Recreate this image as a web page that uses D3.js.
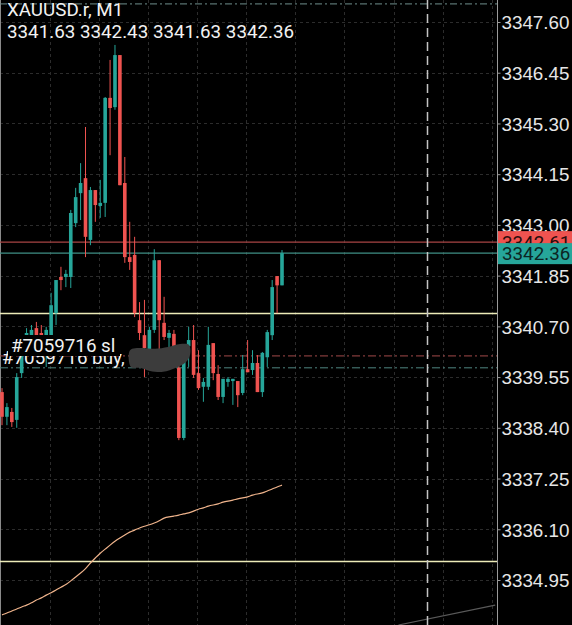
<!DOCTYPE html>
<meta charset="utf-8">
<style>
body { margin: 0; background: #000; }
svg { display: block; font-family: Roboto, sans-serif; }
.axis text { fill: #e6e6e6; font-size: 18.8px; }
.axis line { stroke: #9a9a9a; }
.grid line { stroke: #2c2c2c; stroke-dasharray: 3,3; }
</style>
<body>
<script src="https://d3js.org/d3.v7.min.js"></script>
<script>
// candle data (M1), oldest first
var opens = [3339.21,3338.65,3338.76,3338.58,3339.64,3340.32,3340.50,3340.66,3340.55,3340.50,
  3340.50,3341.00,3341.82,3341.82,3341.82,3343.04,3343.72,3344.06,3342.66,3343.79,
  3343.43,3343.50,3345.88,3345.67,3346.85,3343.95,3342.27,3342.32,3340.84,3340.50,
  3340.16,3340.62,3342.20,3340.78,3340.44,3340.53,3339.76,3338.17,3340.25,3340.39,
  3339.64,3339.33,3339.33,3340.32,3339.62,3339.10,3339.44,3339.46,3339.46,3339.19,
  3339.73,3339.71,3339.87,3339.21,3340.00,3340.50,3341.84,3341.63];
var highs = [3339.30,3338.96,3338.85,3339.64,3340.46,3340.66,3340.73,3340.80,3340.73,3340.69,
  3341.46,3341.75,3342.05,3341.98,3343.34,3343.84,3344.40,3345.22,3343.86,3343.79,
  3344.02,3345.90,3346.74,3347.08,3346.85,3344.54,3343.07,3342.73,3341.25,3341.30,
  3340.69,3342.45,3342.20,3341.37,3340.62,3340.62,3339.94,3340.16,3340.69,3340.73,
  3340.16,3339.53,3340.69,3340.32,3339.82,3339.51,3339.55,3339.51,3339.46,3340.05,
  3340.39,3340.16,3340.05,3340.12,3340.62,3341.75,3341.84,3342.43];
var lows = [3338.46,3338.46,3338.42,3338.40,3339.53,3340.23,3340.39,3340.39,3340.32,3339.78,
  3340.46,3340.73,3341.52,3341.59,3341.57,3342.95,3343.11,3342.27,3342.54,3343.07,
  3343.16,3343.18,3344.58,3345.61,3343.90,3342.14,3341.98,3340.91,3340.39,3339.55,
  3340.12,3340.55,3340.05,3340.39,3340.23,3340.16,3338.12,3338.12,3339.78,3339.53,
  3339.26,3338.99,3339.26,3339.48,3339.03,3338.96,3339.33,3338.92,3338.87,3339.14,
  3339.66,3339.60,3339.21,3339.10,3339.78,3340.39,3341.00,3341.63];
var closes = [3338.65,3338.87,3338.53,3339.55,3340.39,3340.55,3340.62,3340.50,3340.46,3340.62,
  3341.18,3341.75,3341.75,3341.89,3343.27,3343.63,3343.95,3342.73,3343.79,3343.45,
  3343.50,3345.88,3345.65,3346.85,3343.90,3342.27,3342.16,3341.00,3340.55,3340.21,
  3340.62,3342.20,3340.84,3340.46,3340.55,3340.23,3338.17,3340.00,3340.39,3339.60,
  3339.30,3339.44,3340.28,3339.64,3339.10,3339.51,3339.51,3339.51,3339.14,3339.73,
  3339.66,3339.87,3339.21,3340.10,3340.57,3341.59,3341.63,3342.36];

// moving average, one value per candle
var maValues = [3334.16,3334.20,3334.25,3334.29,3334.34,3334.38,3334.43,3334.50,3334.54,3334.61,
  3334.66,3334.72,3334.79,3334.84,3334.93,3335.02,3335.11,3335.20,3335.34,3335.45,
  3335.56,3335.65,3335.74,3335.83,3335.90,3335.97,3336.04,3336.08,3336.13,3336.17,
  3336.20,3336.24,3336.29,3336.36,3336.38,3336.40,3336.42,3336.45,3336.47,3336.51,
  3336.56,3336.58,3336.63,3336.65,3336.67,3336.72,3336.74,3336.76,3336.79,3336.81,
  3336.83,3336.88,3336.90,3336.92,3336.97,3337.01,3337.06,3337.10];

var yTicks = [3347.60,3346.45,3345.30,3344.15,3343.00,3341.85,3340.70,3339.55,3338.40,3337.25,3336.10,3334.95];
var askPrice = 3342.61, bidPrice = 3342.36;
var yellowLevels = [3341.00, 3335.38];
var slPrice = 3340.03, buyPrice = 3339.76;
var topLevel = 3348.01;
var gridIdx = [9.7,19.7,29.7,39.7,49.7,59.7,69.7,79.7,89.7,99.7];
var sepIndex = 86.6;
var trendPts = [[80.7, 3333.93], [100.4, 3334.38]];
var blobPts = [[26.06,3340.16],[28.5,3340.21],[31.15,3340.19],[33.8,3340.23],[36.24,3340.30],[38.07,3340.28],
  [38.27,3340.05],[37.46,3339.89],[35.42,3339.76],[32.78,3339.67],[30.13,3339.69],[28.09,3339.76],[26.26,3339.78]];
var headerSym = "XAUUSD.r, M1";
var ticket = "#7059716";

var W = 572, H = 625, plotW = 497;
var up = "#26a69a", down = "#ef5350";
var fs = "18.8px";

var x = d3.scaleLinear().domain([0, 57]).range([2, 282]);
var y = d3.scaleLinear().domain([3347.60, 3334.95]).range([22, 580]);

var svg = d3.select("body").append("svg").attr("width", W).attr("height", H);
svg.append("rect").attr("width", W).attr("height", H).attr("fill", "#000");
svg.append("clipPath").attr("id", "plot").append("rect").attr("width", plotW).attr("height", H);
var g = svg.append("g").attr("clip-path", "url(#plot)");

// grid
var grid = g.append("g").attr("class", "grid");
grid.selectAll(".h").data(yTicks).enter().append("line")
    .attr("x1", 0).attr("x2", plotW)
    .attr("y1", function(d) { return Math.round(y(d)) + 0.5; })
    .attr("y2", function(d) { return Math.round(y(d)) + 0.5; });
grid.selectAll(".v").data(gridIdx).enter().append("line")
    .attr("x1", function(d) { return Math.round(x(d)) + 0.5; })
    .attr("x2", function(d) { return Math.round(x(d)) + 0.5; })
    .attr("y1", 0).attr("y2", H);

// left border
g.append("line").attr("x1", 0.5).attr("x2", 0.5).attr("y1", 0).attr("y2", H).attr("stroke", "#8a8a8a");

// top level line
g.append("line").attr("x1", 0).attr("x2", plotW)
    .attr("y1", y(topLevel)).attr("y2", y(topLevel))
    .attr("stroke", "#6f8f8c").attr("stroke-dasharray", "7,3,2,3");

// yellow levels
g.selectAll(".yl").data(yellowLevels).enter().append("line")
    .attr("x1", 0).attr("x2", plotW)
    .attr("y1", function(d) { return Math.round(y(d)) + 0.5; })
    .attr("y2", function(d) { return Math.round(y(d)) + 0.5; })
    .attr("stroke", "#ecebb8").attr("stroke-width", 1.3);

// sl / buy lines
g.append("line").attr("x1", 0).attr("x2", plotW)
    .attr("y1", y(slPrice)).attr("y2", y(slPrice))
    .attr("stroke", "#a34a4a").attr("stroke-dasharray", "8,3,2,3");
g.append("line").attr("x1", 0).attr("x2", plotW)
    .attr("y1", y(buyPrice)).attr("y2", y(buyPrice))
    .attr("stroke", "#4f8580").attr("stroke-dasharray", "8,3,2,3");

// ask / bid lines
g.append("line").attr("x1", 0).attr("x2", plotW)
    .attr("y1", y(askPrice)).attr("y2", y(askPrice))
    .attr("stroke", "#a84545").attr("stroke-width", 1.2);
g.append("line").attr("x1", 0).attr("x2", plotW)
    .attr("y1", y(bidPrice)).attr("y2", y(bidPrice))
    .attr("stroke", "#3f8f86").attr("stroke-width", 1.2);

// candles
var idx = d3.range(opens.length);
var bw = 3.6;
var cg = g.append("g");
cg.selectAll(".wick").data(idx).enter().append("line")
    .attr("x1", function(i) { return x(i); })
    .attr("x2", function(i) { return x(i); })
    .attr("y1", function(i) { return y(highs[i]); })
    .attr("y2", function(i) { return y(lows[i]); })
    .attr("stroke", function(i) { return closes[i] >= opens[i] ? up : down; })
    .attr("stroke-width", 1);
cg.selectAll(".body").data(idx).enter().append("rect")
    .attr("x", function(i) { return x(i) - bw / 2; })
    .attr("width", bw)
    .attr("y", function(i) { return y(Math.max(opens[i], closes[i])); })
    .attr("height", function(i) { return Math.max(1, Math.abs(y(opens[i]) - y(closes[i]))); })
    .attr("fill", function(i) { return closes[i] >= opens[i] ? up : down; });

// moving average
g.append("path").datum(maValues)
    .attr("fill", "none").attr("stroke", "#f0b48c").attr("stroke-width", 1.2)
    .attr("d", d3.line().x(function(d, i) { return x(i); }).y(function(d) { return y(d); }).curve(d3.curveBasis));

// trend line bottom right
g.append("line")
    .attr("x1", x(trendPts[0][0])).attr("y1", y(trendPts[0][1]))
    .attr("x2", x(trendPts[1][0])).attr("y2", y(trendPts[1][1]))
    .attr("stroke", "#5a5a5a").attr("stroke-width", 1.2);

// period separator
g.append("line")
    .attr("x1", Math.round(x(sepIndex)) + 0.5).attr("x2", Math.round(x(sepIndex)) + 0.5)
    .attr("y1", 0).attr("y2", H)
    .attr("stroke", "#c4c4c4").attr("stroke-width", 1.5).attr("stroke-dasharray", "9,5");

// order labels
g.append("text").attr("x", 2).attr("y", 364)
    .attr("fill", "#f2f2f2").style("font-size", fs).text(ticket + " buy,");
g.append("rect").attr("x", 8).attr("y", 335).attr("width", 112).attr("height", 21).attr("fill", "#000");
g.append("text").attr("x", 11).attr("y", 352)
    .attr("fill", "#f2f2f2").style("font-size", fs).text(ticket + " sl");

// redaction smudge
g.append("path").datum(blobPts)
    .attr("fill", "#3c3c3c")
    .attr("d", d3.line().x(function(d) { return x(d[0]); }).y(function(d) { return y(d[1]); }).curve(d3.curveCatmullRomClosed));

// header
svg.append("text").attr("x", 7).attr("y", 16).attr("fill", "#f2f2f2")
    .style("font-size", fs).text(headerSym);
svg.append("text").attr("x", 7).attr("y", 38).attr("fill", "#f2f2f2")
    .style("font-size", fs)
    .text([opens[57], highs[57], lows[57], closes[57]].map(d3.format(".2f")).join(" "));

// right axis
var ax = svg.append("g").attr("class", "axis").attr("transform", "translate(497.5,0)")
    .call(d3.axisRight(y).tickValues(yTicks).tickFormat(d3.format(".2f")).tickSize(3).tickPadding(1));
ax.select(".domain").remove();
ax.selectAll("text").attr("dy", "0.36em");
svg.append("line").attr("x1", 497.5).attr("x2", 497.5).attr("y1", 0).attr("y2", H).attr("stroke", "#9a9a9a");

// price boxes
svg.append("rect").attr("x", 498).attr("y", y(askPrice) - 11).attr("width", 74).attr("height", 21).attr("fill", down);
svg.append("text").attr("x", 502).attr("y", y(askPrice)).attr("dy", "0.36em")
    .attr("fill", "#2a0c0c").style("font-size", fs).text(d3.format(".2f")(askPrice));
svg.append("rect").attr("x", 498).attr("y", y(bidPrice) - 10).attr("width", 74).attr("height", 21).attr("fill", up);
svg.append("text").attr("x", 502).attr("y", y(bidPrice)).attr("dy", "0.36em")
    .attr("fill", "#0c2523").style("font-size", fs).text(d3.format(".2f")(bidPrice));
</script>
</body>
